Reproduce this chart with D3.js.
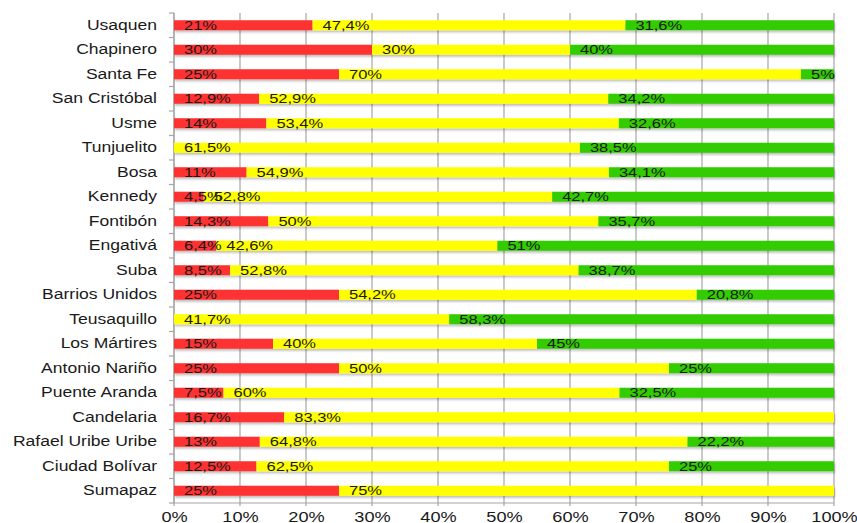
<!DOCTYPE html>
<html>
<head>
<meta charset="utf-8">
<script src="https://cdn.jsdelivr.net/npm/d3@7"></script>
<style>
  body { margin: 0; background: #fff; }
  svg text { font-family: "Liberation Sans", Arial, sans-serif; }
</style>
</head>
<body>
<svg id="chart" width="857" height="523"></svg>
<script>
var localidades = ["Usaquen", "Chapinero", "Santa Fe", "San Cristóbal", "Usme", "Tunjuelito", "Bosa",
  "Kennedy", "Fontibón", "Engativá", "Suba", "Barrios Unidos", "Teusaquillo", "Los Mártires",
  "Antonio Nariño", "Puente Aranda", "Candelaria", "Rafael Uribe Uribe", "Ciudad Bolívar", "Sumapaz"];
var rojo =     [21, 30, 25, 12.9, 14, 0, 11, 4.5, 14.3, 6.4, 8.5, 25, 0, 15, 25, 7.5, 16.7, 13, 12.5, 25];
var amarillo = [47.4, 30, 70, 52.9, 53.4, 61.5, 54.9, 52.8, 50, 42.6, 52.8, 54.2, 41.7, 40, 50, 60, 83.3, 64.8, 62.5, 75];
var verde =    [31.6, 40, 5, 34.2, 32.6, 38.5, 34.1, 42.7, 35.7, 51, 38.7, 20.8, 58.3, 45, 25, 32.5, 0, 22.2, 25, 0];
var xTicks = [0, 10, 20, 30, 40, 50, 60, 70, 80, 90, 100];

var colores = ["#ff3333", "#ffff00", "#33cc00"];
var series = [rojo, amarillo, verde];
var estirar = 1.27; // the reference text is stretched horizontally

var margin = { top: 13, right: 23, bottom: 20, left: 174 },
    width = 857 - margin.left - margin.right,
    height = 523 - margin.top - margin.bottom;

var svg = d3.select("#chart");
var defs = svg.append("defs");
var f = defs.append("filter").attr("id", "sombra")
  .attr("x", "-5%").attr("y", "-50%").attr("width", "110%").attr("height", "250%");
f.append("feDropShadow").attr("dx", 1).attr("dy", 2).attr("stdDeviation", 1)
  .attr("flood-color", "#000").attr("flood-opacity", 0.25);

var g = svg.append("g").attr("transform", "translate(" + margin.left + "," + margin.top + ")");

var x = d3.scaleLinear().domain([0, 100]).range([0, width]);
var filas = d3.scaleBand().domain(localidades).range([0, height]);
var y = d3.scaleBand().domain(localidades).range([0, height]).paddingInner(0.59).paddingOuter(0.295);

var gris = "#a6a6a6";

// gridlines
g.append("g").selectAll("line").data(xTicks).enter().append("line")
  .attr("x1", function (d) { return x(d); }).attr("x2", function (d) { return x(d); })
  .attr("y1", 0).attr("y2", height + 3)
  .attr("stroke", gris).attr("stroke-width", 1.2);

// left axis line + boundary ticks
g.append("line").attr("x1", 0).attr("x2", 0).attr("y1", 0).attr("y2", height)
  .attr("stroke", gris).attr("stroke-width", 1.2);
var limites = localidades.map(function (c) { return filas(c); }).concat([height]);
g.append("g").selectAll("line").data(limites).enter().append("line")
  .attr("x1", -5).attr("x2", 0)
  .attr("y1", function (d) { return d; }).attr("y2", function (d) { return d; })
  .attr("stroke", gris).attr("stroke-width", 1.2);

// bottom axis line
g.append("line").attr("x1", 0).attr("x2", width).attr("y1", height).attr("y2", height)
  .attr("stroke", gris).attr("stroke-width", 1.2);

// stacked data
var filasDatos = localidades.map(function (c, i) {
  var acc = 0;
  return series.map(function (s, k) {
    var seg = { cat: c, k: k, v: s[i], x0: acc, x1: acc + s[i] };
    acc += s[i];
    return seg;
  });
});

var barras = g.append("g").attr("filter", "url(#sombra)");
filasDatos.forEach(function (fila) {
  barras.selectAll(null).data(fila.filter(function (d) { return d.v > 0; })).enter().append("rect")
    .attr("x", function (d) { return x(d.x0); })
    .attr("width", function (d) { return x(d.x1) - x(d.x0); })
    .attr("y", function (d) { return y(d.cat); })
    .attr("height", y.bandwidth())
    .attr("fill", function (d) { return colores[d.k]; });
});

var fmt = function (v) { return String(v).replace(".", ",") + "%"; };
var etiquetas = g.append("g");
filasDatos.forEach(function (fila) {
  etiquetas.selectAll(null).data(fila.filter(function (d) { return d.v > 0; })).enter().append("text")
    .attr("transform", function (d) {
      return "translate(" + (x(d.x0) + 10) + "," + (y(d.cat) + y.bandwidth() / 2) + ") scale(" + estirar + ",1)";
    })
    .attr("dy", "0.36em")
    .attr("font-size", 13)
    .attr("fill", "#1a1a1a")
    .text(function (d) { return fmt(d.v); });
});

// category labels
var ejeY = g.append("g").call(d3.axisLeft(y).tickSize(0).tickPadding(17));
ejeY.select(".domain").remove();
ejeY.selectAll("text")
  .attr("x", -17 / estirar)
  .attr("transform", "scale(" + estirar + ",1)")
  .attr("font-size", 13.8).attr("fill", "#1a1a1a")
  .style("font-family", "'Liberation Sans', Arial, sans-serif");

// x axis labels
var ejeX = g.append("g").attr("transform", "translate(0," + height + ")")
  .call(d3.axisBottom(x).tickValues(xTicks).tickSize(0).tickPadding(9)
    .tickFormat(function (d) { return d + "%"; }));
ejeX.select(".domain").remove();
ejeX.selectAll("text")
  .attr("transform", "scale(" + estirar + ",1)")
  .attr("font-size", 14.3).attr("fill", "#1a1a1a")
  .style("font-family", "'Liberation Sans', Arial, sans-serif");
</script>
</body>
</html>
